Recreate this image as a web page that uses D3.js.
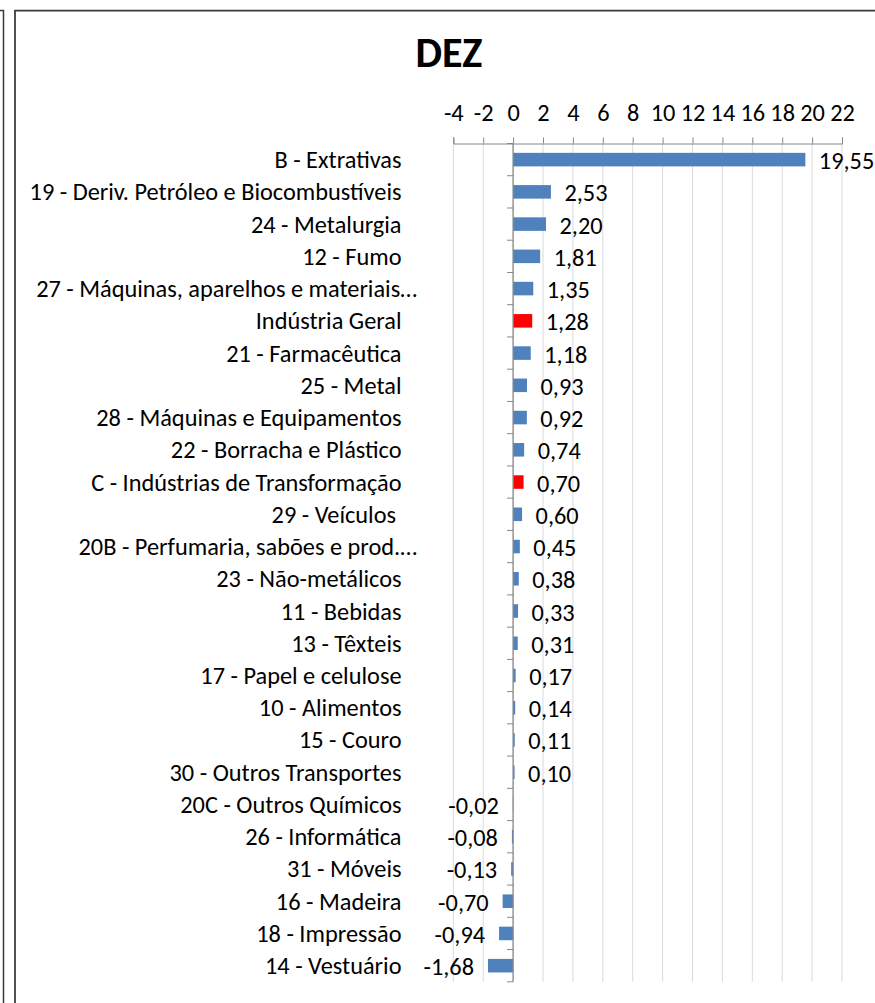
<!DOCTYPE html>
<html><head><meta charset="utf-8">
<script src="https://cdnjs.cloudflare.com/ajax/libs/d3/7.8.5/d3.min.js"></script>
<style>html,body{margin:0;padding:0;background:#fff;overflow:hidden}</style>
</head><body>
<svg id="chart" width="875" height="1003"></svg>
<script>
const title = "DEZ";
const categories = [
  "B - Extrativas",
  "19 - Deriv. Petróleo e Biocombustíveis",
  "24 - Metalurgia",
  "12 - Fumo",
  "27 - Máquinas, aparelhos e materiais…",
  "Indústria Geral",
  "21 - Farmacêutica",
  "25 - Metal",
  "28 - Máquinas e Equipamentos",
  "22 - Borracha e Plástico",
  "C - Indústrias de Transformação",
  "29 - Veículos ",
  "20B - Perfumaria, sabões e prod.…",
  "23 - Não-metálicos",
  "11 - Bebidas",
  "13 - Têxteis",
  "17 - Papel e celulose",
  "10 - Alimentos",
  "15 - Couro",
  "30 - Outros Transportes",
  "20C - Outros Químicos",
  "26 - Informática",
  "31 - Móveis",
  "16 - Madeira",
  "18 - Impressão",
  "14 - Vestuário"
];
const values = [19.55, 2.53, 2.20, 1.81, 1.35, 1.28, 1.18, 0.93, 0.92, 0.74, 0.70, 0.60, 0.45, 0.38, 0.33, 0.31, 0.17, 0.14, 0.11, 0.10, -0.02, -0.08, -0.13, -0.70, -0.94, -1.68];
const highlighted = ["Indústria Geral", "C - Indústrias de Transformação"];
const xTicks = [-4, -2, 0, 2, 4, 6, 8, 10, 12, 14, 16, 18, 20, 22];

const svg = d3.select("#chart");
const FONT = "Carlito, Calibri, Lato, 'Open Sans', sans-serif";

function fitSize(str, target, weight) {
  const t = svg.append("text").attr("font-family", FONT).attr("font-size", 100)
    .attr("font-weight", weight || "normal").text(str);
  const w = t.node().getComputedTextLength();
  t.remove();
  return 100 * target / w;
}
const labelSize = fitSize("19 - Deriv. Petróleo e Biocombustíveis", 372);
const titleSize = fitSize("DEZ", 67, "bold");

// borders (neighbouring chart edge and this chart's frame)
svg.append("path").attr("d", "M0,10.5H3.5V1003").attr("fill", "none").attr("stroke", "#3a3a3a").attr("stroke-width", 1.5);
svg.append("path").attr("d", "M15,1003V10.5H875").attr("fill", "none").attr("stroke", "#3a3a3a").attr("stroke-width", 1.75);

const x = d3.scaleLinear().domain([-4, 22]).range([453.3, 842]);
const plotTop = 143.5, plotBottom = 981.8;
const y = d3.scaleBand().domain(categories).range([plotTop, plotBottom]).paddingInner(0.58).paddingOuter(0.29);

// title
svg.append("text").attr("x", 449).attr("y", 66.5).attr("text-anchor", "middle")
  .attr("font-family", FONT).attr("font-weight", "bold").attr("font-size", titleSize)
  .attr("fill", "#000").text(title);

// gridlines
svg.append("g").selectAll("line").data(xTicks).join("line")
  .attr("x1", d => x(d)).attr("x2", d => x(d)).attr("y1", plotTop).attr("y2", plotBottom)
  .attr("stroke", "#d9d9d9").attr("stroke-width", 1);

// top axis
const xAxis = d3.axisTop(x).tickValues(xTicks).tickSize(6).tickPadding(17)
  .tickFormat(d => String(d));
const gx = svg.append("g").attr("transform", `translate(0,${plotTop})`).call(xAxis);
gx.select(".domain").attr("stroke", "#868686");
gx.selectAll(".tick line").attr("stroke", "#868686");
gx.selectAll(".tick text").attr("font-family", FONT).attr("font-size", labelSize).attr("fill", "#000");

// bars
svg.append("g").selectAll("rect").data(categories).join("rect")
  .attr("x", (d, i) => x(Math.min(0, values[i])))
  .attr("width", (d, i) => Math.abs(x(values[i]) - x(0)))
  .attr("y", d => y(d)).attr("height", y.bandwidth())
  .attr("fill", d => highlighted.includes(d) ? "#ff0000" : "#4f81bd");

// vertical category axis at zero
const step = y.step();
const boundaries = d3.range(categories.length + 1).map(i => plotTop + i * step);
const ga = svg.append("g");
ga.append("line").attr("x1", x(0)).attr("x2", x(0)).attr("y1", plotTop).attr("y2", plotBottom)
  .attr("stroke", "#868686").attr("stroke-width", 1.2);
ga.selectAll("line.t").data(boundaries).join("line").attr("class", "t")
  .attr("x1", x(0) - 6).attr("x2", x(0)).attr("y1", d => d).attr("y2", d => d)
  .attr("stroke", "#868686");

// category labels
svg.append("g").selectAll("text").data(categories).join("text")
  .attr("x", d => d.endsWith("…") ? 417 : 401.5)
  .attr("y", d => y(d) + y.bandwidth() / 2)
  .attr("dy", "0.35em").attr("text-anchor", "end")
  .style("white-space", "pre")
  .attr("font-family", FONT).attr("font-size", labelSize).attr("fill", "#000")
  .text(d => d);

// value labels
const fmt = v => v.toFixed(2).replace(".", ",");
svg.append("g").selectAll("text").data(categories).join("text")
  .attr("x", (d, i) => values[i] >= 0 ? x(values[i]) + 13.5 : x(values[i]) - 14)
  .attr("y", d => y(d) + y.bandwidth() / 2 + 1)
  .attr("dy", "0.35em")
  .attr("text-anchor", (d, i) => values[i] >= 0 ? "start" : "end")
  .attr("font-family", FONT).attr("font-size", labelSize).attr("fill", "#000")
  .text((d, i) => fmt(values[i]));
</script>
</body></html>
